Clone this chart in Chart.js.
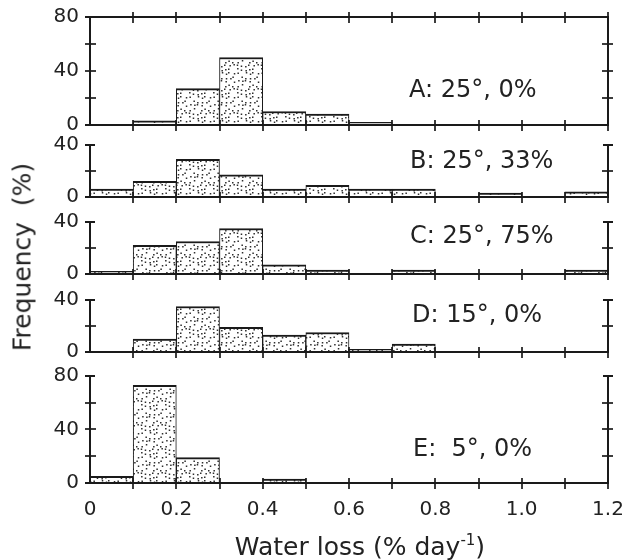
<!DOCTYPE html>
<html>
<head>
<meta charset="utf-8">
<script src="https://cdn.jsdelivr.net/npm/chart.js@4.4.1/dist/chart.umd.min.js"></script>
<style>
  html, body { margin: 0; padding: 0; background: #fff; }
  #wrap { position: relative; width: 625px; height: 560px; font-family: "DejaVu Sans", sans-serif; color: #222; }
  #wrap canvas { position: absolute; left: 0; top: 0; }
  .lbl { position: absolute; font-size: 24px; line-height: 24px; white-space: pre; }
  #ytitle { position: absolute; left: 22px; top: 257px; transform: translate(-50%, -50%) rotate(-90deg);
            font-size: 25px; line-height: 25px; white-space: pre; }
  #xtitle { position: absolute; left: 360px; top: 534px; transform: translateX(-50%);
            font-size: 25px; line-height: 25px; white-space: nowrap; }
  #xtitle sup { font-size: 15px; line-height: 0; vertical-align: 10px; }
</style>
</head>
<body>
<div id="wrap">
  <canvas id="chart" width="625" height="560"></canvas>
  <div id="ytitle">Frequency  (%)</div>
  <div id="xtitle">Water loss (% day<sup>-1</sup>)</div>
</div>
<script>
// bins of water loss, 0.1 wide, from 0 to 1.2 (% day-1)
const binStarts = [0, 0.1, 0.2, 0.3, 0.4, 0.5, 0.6, 0.7, 0.8, 0.9, 1.0, 1.1];
const binWidth = 0.1;
const xMax = 1.2;

// frequency (%) per bin, one array per treatment
const freqA = [0, 3, 27, 50, 10, 8, 2, 0, 0, 0, 0, 0];
const freqB = [6, 12, 29, 17, 6, 9, 6, 6, 0, 3, 0, 4];
const freqC = [2, 22, 25, 35, 7, 3, 0, 3, 0, 0, 0, 3];
const freqD = [0, 10, 35, 19, 13, 15, 2, 6, 0, 0, 0, 0];
const freqE = [5, 73, 19, 0, 3, 0, 0, 0, 0, 0, 0, 0];

const panelNames = ['A: 25°, 0%', 'B: 25°, 33%', 'C: 25°, 75%', 'D: 15°, 0%', 'E:  5°, 0%'];

// layout of the five stacked panels (top to bottom)
const panels = [
  { id: 'yA', data: freqA, top: 80, max: 80,   weight: 108, box: true,  label: { left: 409, top: 77 } },
  { id: 'yB', data: freqB, top: 40, max: 55.4, weight: 72,  box: false, label: { left: 410, top: 148 } },
  { id: 'yC', data: freqC, top: 40, max: 59.2, weight: 77,  box: false, label: { left: 410, top: 223 } },
  { id: 'yD', data: freqD, top: 40, max: 60,   weight: 78,  box: false, label: { left: 412, top: 302 } },
  { id: 'yE', data: freqE, top: 80, max: 97.9, weight: 131, box: false, label: { left: 413, top: 436 } }
];

const INK = '#1a1a1a';
const TEXT = '#222';

// stippled fill like the printed figure
function makeStipple() {
  const size = 24;
  const c = document.createElement('canvas');
  c.width = size; c.height = size;
  const g = c.getContext('2d');
  g.fillStyle = '#ffffff';
  g.fillRect(0, 0, size, size);
  g.fillStyle = '#2e2e2e';
  let h = 7;
  for (let i = 0; i < 6; i++) {
    for (let j = 0; j < 6; j++) {
      h = (h * 73 + 41) % 101;
      const jx = (h % 7) / 7 * 2.5;
      h = (h * 73 + 41) % 101;
      const jy = (h % 5) / 5 * 2.5;
      if ((i + j * 2) % 7 === 0) continue;
      g.fillRect(i * 4 + jx, j * 4 + jy, 1.5, 1.5);
    }
  }
  return g.createPattern(c, 'repeat');
}
const stipple = makeStipple();

function seg(ctx, x1, y1, x2, y2) {
  ctx.beginPath();
  ctx.moveTo(x1, y1);
  ctx.lineTo(x2, y2);
  ctx.stroke();
}

// axes drawn as in the original: crossing ticks, capped short axes
const framePlugin = {
  id: 'frame',
  afterDatasetsDraw(chart) {
    const ctx = chart.ctx;
    const xs = chart.scales.x;
    const L = Math.round(xs.getPixelForValue(0));
    const R = Math.round(xs.getPixelForValue(xMax));
    ctx.save();
    ctx.strokeStyle = INK;
    panels.forEach(p => {
      const s = chart.scales[p.id];
      const y0 = Math.round(s.getPixelForValue(0));
      const yT = Math.round(s.getPixelForValue(p.top));
      ctx.lineWidth = 2;
      seg(ctx, L - 5, y0, R + 1, y0);
      seg(ctx, L, y0 + 1, L, yT - 1);
      seg(ctx, R, y0 + 1, R, yT - 1);
      if (p.box) {
        seg(ctx, L - 5, yT, R + 1, yT);
      } else {
        seg(ctx, L - 5, yT, L + 5, yT);
        seg(ctx, R - 5, yT, R + 5, yT);
      }
      ctx.lineWidth = 1.7;
      for (let v = 20; v < p.top; v += 20) {
        const y = Math.round(s.getPixelForValue(v));
        seg(ctx, L - 5, y, L + 6, y);
        seg(ctx, R - 6, y, R + 5, y);
      }
      for (let i = 1; i <= binStarts.length; i++) {
        const x = Math.round(xs.getPixelForValue(i * binWidth));
        seg(ctx, x, y0 - 5, x, y0 + 6);
        if (p.box) seg(ctx, x, yT - 5, x, yT + 6);
      }
    });
    ctx.restore();
  }
};

const datasets = panels.map(p => ({
  data: p.data.map((v, i) => ({ x: binStarts[i] + binWidth / 2, y: v })),
  yAxisID: p.id,
  backgroundColor: stipple,
  borderColor: INK,
  borderWidth: { top: 2, left: 1, right: 1, bottom: 0 },
  barPercentage: 1,
  categoryPercentage: 1,
  grouped: false
}));

const scales = {
  x: {
    type: 'linear',
    position: 'bottom',
    offset: false,
    min: 0,
    max: xMax,
    grid: { display: false, drawTicks: false, offset: false },
    border: { display: false },
    ticks: {
      stepSize: 0.2,
      padding: 1,
      maxRotation: 0,
      autoSkip: false,
      color: TEXT,
      font: { family: 'DejaVu Sans', size: 20, lineHeight: 2.55 },
      callback: v => (v === 0 ? '0' : v.toFixed(1))
    },
    afterFit(s) { s.height = 77; }
  }
};
// later keys are stacked higher, so add the bottom panel first
panels.slice().reverse().forEach(p => {
  scales[p.id] = {
    type: 'linear',
    position: 'left',
    stack: 'panels',
    stackWeight: p.weight,
    min: 0,
    max: p.max,
    grid: { display: false, drawTicks: false },
    border: { display: false },
    ticks: {
      stepSize: 40, includeBounds: false, padding: 11, color: TEXT,
      font: { family: 'DejaVu Sans', size: 20, lineHeight: 0.5 }
    },
    afterFit(s) { s.width = 90; }
  };
});

new Chart(document.getElementById('chart'), {
  type: 'bar',
  data: { datasets },
  options: {
    responsive: false,
    animation: false,
    devicePixelRatio: 1,
    events: [],
    layout: { padding: { top: 17, right: 17, bottom: 0, left: 0 } },
    scales,
    plugins: { legend: { display: false }, tooltip: { enabled: false } }
  },
  plugins: [framePlugin]
});

// panel captions
const wrap = document.getElementById('wrap');
panels.forEach((p, i) => {
  const d = document.createElement('div');
  d.className = 'lbl';
  d.style.left = p.label.left + 'px';
  d.style.top = p.label.top + 'px';
  d.textContent = panelNames[i];
  wrap.appendChild(d);
});
</script>
</body>
</html>
